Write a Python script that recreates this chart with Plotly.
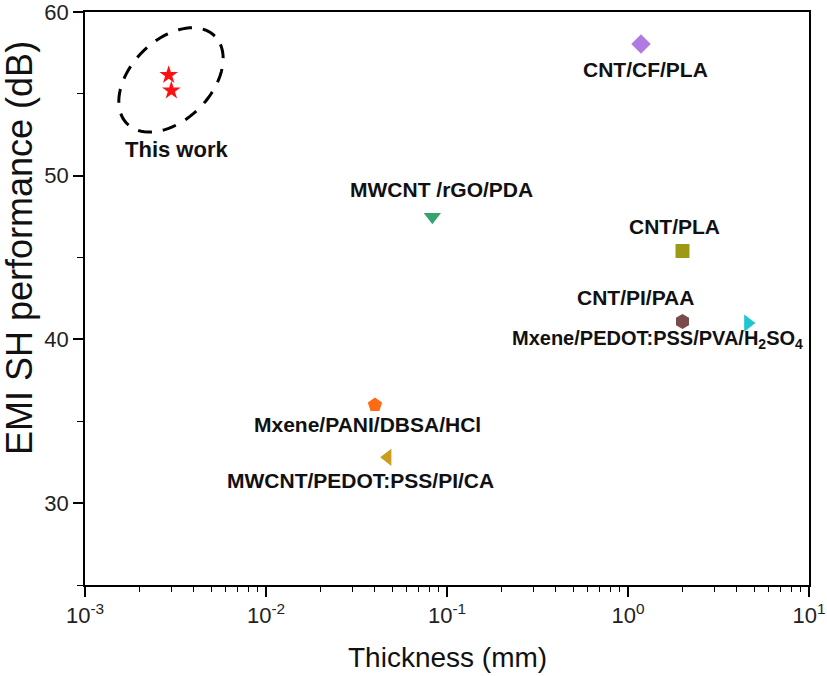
import numpy as np
import plotly.graph_objects as go

# ---- data ----
names = ["This work", "CNT/CF/PLA", "MWCNT /rGO/PDA", "CNT/PLA", "CNT/PI/PAA",
         "Mxene/PEDOT:PSS/PVA/H<sub>2</sub>SO<sub>4</sub>", "Mxene/PANI/DBSA/HCl",
         "MWCNT/PEDOT:PSS/PI/CA"]
thickness_mm = [[0.0029, 0.003], [1.18], [0.083], [2.0], [2.0], [4.6], [0.040], [0.047]]
emi_db = [[56.15, 55.2], [58.05], [47.5], [45.4], [41.1], [41.0], [36.0], [32.8]]
x_tick_vals = [0.001, 0.01, 0.1, 1, 10]
x_tick_text = ["10<sup>-3</sup>", "10<sup>-2</sup>", "10<sup>-1</sup>", "10<sup>0</sup>", "10<sup>1</sup>"]
y_tick_vals = [30, 40, 50, 60]

# ---- styles ----
symbols = ["star", "diamond", "triangle-down", "square", "hexagon", "triangle-right",
           "pentagon", "triangle-left"]
colors = ["#FF1010", "#B07BE0", "#35A36E", "#9E9912", "#7B4B4B", "#1FC6D0",
          "#FF6A12", "#CC9D1C"]
sizes = [14, 15, 15, 14, 15, 15, 15, 15]
label_sizes = [22, 21, 21, 21, 21, 20, 21, 21]
# label offsets in pixels relative to last point of each series (dx right, dy up)
label_dx = [5, 4, 9, -8, -47, -90, -7, -27]
label_dy = [-59, -26, 27, 25, 24, -16, -20, -23]

W, H = 827, 676
L, R, T, B = 85, 18, 12, 91
PW, PH = W - L - R, H - T - B
XR = [-3, 1]
YR = [25, 60]

FONT = "Liberation Sans, Arial, sans-serif"

fig = go.Figure()
for i, n in enumerate(names):
    fig.add_trace(go.Scatter(
        x=thickness_mm[i], y=emi_db[i], mode="markers", name=n,
        marker=dict(symbol=symbols[i], color=colors[i], size=sizes[i], line=dict(width=0)),
        showlegend=False, hoverinfo="x+y+name"))
    fig.add_annotation(
        x=np.log10(thickness_mm[i][-1]), y=emi_db[i][-1], xref="x", yref="y",
        text="<b>" + n + "</b>", showarrow=False, xshift=label_dx[i], yshift=label_dy[i],
        font=dict(family=FONT, size=label_sizes[i], color="#111111"))

# dashed ellipse around "This work" (pixel radii, rotated 45 degrees)
cx_log, cy = -2.525, 55.85
a_px, b_px, th = 62, 40, np.deg2rad(45)
t = np.linspace(0, 2 * np.pi, 90)
dx = a_px * np.cos(t) * np.cos(th) - b_px * np.sin(t) * np.sin(th)
dy = a_px * np.cos(t) * np.sin(th) + b_px * np.sin(t) * np.cos(th)
px = (cx_log - XR[0]) / (XR[1] - XR[0]) + dx / PW
py = (cy - YR[0]) / (YR[1] - YR[0]) + dy / PH
path = "M " + " L ".join(f"{u:.5f},{v:.5f}" for u, v in zip(px, py)) + " Z"
fig.add_shape(type="path", path=path, xref="paper", yref="paper",
              line=dict(color="black", width=3, dash="14px,11px"))

fig.update_xaxes(
    type="log", range=XR, tickvals=x_tick_vals, ticktext=x_tick_text, automargin=False,
    ticklabeloverflow="allow",
    showgrid=False, zeroline=False, showline=True, linecolor="black", linewidth=1.5,
    mirror=True, ticks="outside", ticklen=10, tickwidth=1.5, tickcolor="black",
    tickfont=dict(family=FONT, size=22, color="#222222"),
    minor=dict(ticks="outside", ticklen=5, tickwidth=1.2, tickcolor="black", dtick="D1", showgrid=False))
fig.update_yaxes(
    range=YR, tickvals=y_tick_vals, automargin=False, ticklabeloverflow="allow",
    showgrid=False, zeroline=False, showline=True, linecolor="black", linewidth=1.5,
    mirror=True, ticks="outside", ticklen=10, tickwidth=1.5, tickcolor="black",
    tickfont=dict(family=FONT, size=22, color="#222222"),
    minor=dict(ticks="outside", ticklen=6, tickwidth=1.2, tickcolor="black",
               tickvals=[25, 35, 45, 55], showgrid=False))

# axis titles
fig.add_annotation(text="Thickness (mm)", xref="paper", yref="paper", x=0.5,
                   y=-(657 - (H - B)) / PH, yanchor="middle", showarrow=False,
                   font=dict(family=FONT, size=28, color="#111111"))
fig.add_annotation(text="EMI SH performance (dB)", xref="paper", yref="paper",
                   x=(20 - L) / PW, y=(H - B - 248) / PH, textangle=-90,
                   xanchor="center", yanchor="middle", showarrow=False,
                   font=dict(family=FONT, size=36, color="#111111"))

fig.update_layout(width=W, height=H, margin=dict(l=L, r=R, t=T, b=B, autoexpand=False),
                  plot_bgcolor="white", paper_bgcolor="white")
fig.write_html("out.html", config={"displayModeBar": False},
               post_script="document.body.style.margin='0';document.body.style.overflow='hidden';")
